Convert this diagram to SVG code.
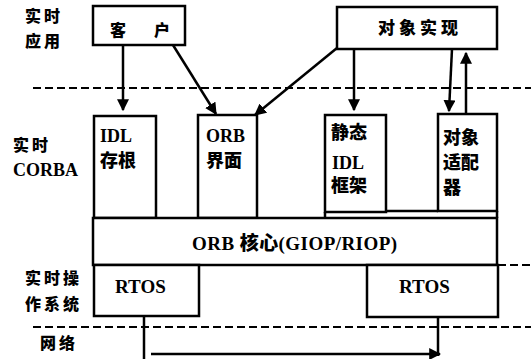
<svg xmlns="http://www.w3.org/2000/svg" width="531" height="359" viewBox="0 0 531 359">
<style>
  .bg { fill: #ffffff; }
  .box { fill: #ffffff; stroke: #000000; stroke-width: 2.5; }
  .ln { fill: none; stroke: #000000; stroke-width: 2.5; }
  .dash { fill: none; stroke: #000000; stroke-width: 2.2; stroke-dasharray: 8 4; }
  .t { font-family: "Liberation Serif", "Noto Sans CJK SC", serif; font-weight: 900; fill: #000000; }
  .lab { font-size: 16px; letter-spacing: 3px; }
  .in { font-size: 18px; }
</style>
<defs>
  <marker id="ah" viewBox="0 0 10 10" refX="9" refY="5" markerWidth="4.8" markerHeight="4.8" orient="auto" markerUnits="strokeWidth">
    <path d="M0,0 L10,5 L0,10 Z" fill="#000000"/>
  </marker>
</defs>
<rect class="bg" x="0" y="0" width="531" height="359"/>

<g id="separators">
  <line class="dash" x1="33" y1="88" x2="531" y2="88"/>
  <line class="dash" x1="498" y1="265" x2="531" y2="265"/>
  <line class="dash" x1="33" y1="327" x2="531" y2="327"/>
</g>

<g id="layer-labels">
  <text class="t lab" x="25" y="22">实时</text>
  <text class="t lab" x="25" y="47">应用</text>
  <text class="t lab" x="13" y="151">实时</text>
  <text class="t" x="13" y="176" font-size="18">CORBA</text>
  <text class="t lab" x="25" y="284" letter-spacing="2">实时操</text>
  <text class="t lab" x="25" y="310" letter-spacing="2">作系统</text>
  <text class="t lab" x="40" y="349">网络</text>
</g>

<g id="client">
  <rect class="box" x="93" y="6" width="92" height="39"/>
  <text class="t" x="110" y="36" font-size="16" letter-spacing="6">客　户</text>
</g>

<g id="object-impl">
  <rect class="box" x="337" y="7" width="160" height="42"/>
  <text class="t" x="378" y="34" font-size="17" letter-spacing="4">对象实现</text>
</g>

<g id="idl-stub">
  <rect class="box" x="94" y="116" width="62" height="102"/>
  <text class="t in" x="100" y="142">IDL</text>
  <text class="t in" x="100" y="167">存根</text>
</g>

<g id="orb-interface">
  <rect class="box" x="198" y="115" width="59" height="103"/>
  <text class="t in" x="206" y="142">ORB</text>
  <text class="t in" x="206" y="167">界面</text>
</g>

<g id="static-skeleton">
  <rect class="box" x="325" y="115" width="61" height="97"/>
  <line class="ln" x1="325" y1="212" x2="325" y2="218"/>
  <text class="t in" x="331" y="139">静态</text>
  <text class="t in" x="332" y="169">IDL</text>
  <text class="t in" x="331" y="192">框架</text>
</g>

<g id="object-adapter">
  <line class="ln" x1="386" y1="211" x2="438" y2="211"/>
  <rect class="box" x="438" y="114" width="59" height="97"/>
  <line class="ln" x1="497" y1="211" x2="497" y2="218"/>
  <text class="t in" x="443" y="144">对象</text>
  <text class="t in" x="443" y="169">适配</text>
  <text class="t in" x="443" y="194">器</text>
</g>

<g id="orb-core">
  <rect class="box" x="93" y="218" width="404" height="47"/>
  <text class="t" x="192" y="250" font-size="19" textLength="205" lengthAdjust="spacing">ORB 核心(GIOP/RIOP)</text>
</g>

<g id="rtos-left">
  <rect class="box" x="94" y="265" width="105" height="51"/>
  <text class="t" x="115" y="293" font-size="19">RTOS</text>
</g>

<g id="rtos-right">
  <rect class="box" x="367" y="265" width="131" height="52"/>
  <text class="t" x="399" y="293" font-size="19">RTOS</text>
</g>

<g id="connectors">
  <line class="ln" x1="123" y1="45" x2="123" y2="110" marker-end="url(#ah)"/>
  <line class="ln" x1="173" y1="45" x2="216" y2="114" marker-end="url(#ah)"/>
  <line class="ln" x1="337" y1="48" x2="255" y2="115" marker-end="url(#ah)"/>
  <line class="ln" x1="354" y1="49" x2="354" y2="110" marker-end="url(#ah)"/>
  <line class="ln" x1="452" y1="49" x2="449" y2="111" marker-end="url(#ah)"/>
  <line class="ln" x1="466" y1="114" x2="466" y2="53" marker-end="url(#ah)"/>
  <line class="ln" x1="144" y1="316" x2="144" y2="359"/>
  <line class="ln" x1="438" y1="317" x2="438" y2="356"/>
  <line class="ln" x1="151" y1="354" x2="440" y2="354" marker-end="url(#ah)"/>
</g>
</svg>
